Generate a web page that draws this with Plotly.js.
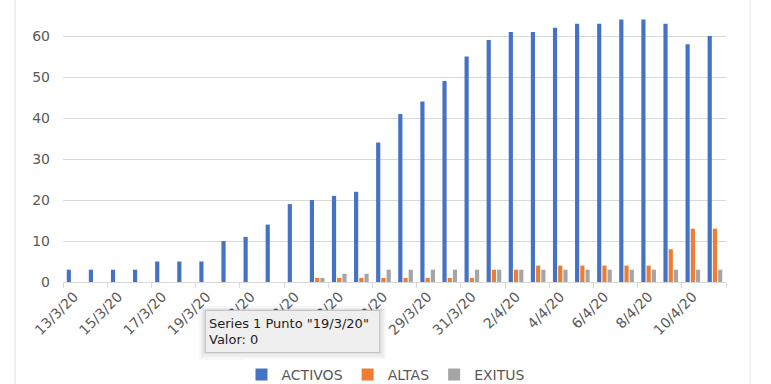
<!DOCTYPE html>
<html>
<head>
<meta charset="utf-8">
<script src="https://cdn.plot.ly/plotly-3.0.1.min.js"></script>
<style>
html, body { margin: 0; padding: 0; width: 771px; height: 384px; overflow: hidden; background: #fff; }
#chart { position: absolute; left: 0; top: -16px; width: 771px; height: 400px; }
</style>
</head>
<body>
<div id="chart"></div>
<script>
const dates = ['13/3/20','14/3/20','15/3/20','16/3/20','17/3/20','18/3/20','19/3/20','20/3/20','21/3/20','22/3/20',
               '23/3/20','24/3/20','25/3/20','26/3/20','27/3/20','28/3/20','29/3/20','30/3/20','31/3/20','1/4/20',
               '2/4/20','3/4/20','4/4/20','5/4/20','6/4/20','7/4/20','8/4/20','9/4/20','10/4/20','11/4/20'];
const activos = [3,3,3,3,5,5,5,10,11,14,19,20,21,22,34,41,44,49,55,59,61,61,62,63,63,64,64,63,58,60];
const altas   = [0,0,0,0,0,0,0,0,0,0,0,1,1,1,1,1,1,1,1,3,3,4,4,4,4,4,4,8,13,13];
const exitus  = [0,0,0,0,0,0,0,0,0,0,0,1,2,2,3,3,3,3,3,3,3,3,3,3,3,3,3,3,3,3];
const seriesNames = ['ACTIVOS','ALTAS','EXITUS'];
const tooltipText = 'Series 1 Punto "19/3/20"<br>Valor: 0';

// layout geometry helpers (page pixels -> paper coords)
const L = 63, R = 45, T = 11, B = 102, H = 400, W = 771, OFF = 16;
const plotW = W - L - R, plotH = H - T - B;
const px = x => (x - L) / plotW;
const py = y => (H - B - (y + OFF)) / plotH;

const font = 'DejaVu Sans, Verdana, sans-serif';
const colors = ['#4472C4', '#ED7D31', '#A5A5A5'];

const traces = [activos, altas, exitus].map((vals, i) => ({
  type: 'bar', x: dates, y: vals, name: seriesNames[i],
  marker: { color: colors[i], line: { width: 0 } },
  hoverinfo: 'skip'
}));

const layout = {
  width: W, height: H,
  margin: { l: L, r: R, t: T, b: B, pad: 0 },
  paper_bgcolor: '#fff', plot_bgcolor: '#fff',
  barmode: 'group', bargap: 0.29, bargroupgap: 0.2,
  font: { family: font, size: 14, color: '#595959' },
  showlegend: true,
  legend: {
    orientation: 'h', xref: 'container', yref: 'container',
    x: 0.5, xanchor: 'center', y: (H - (375 + OFF)) / H, yanchor: 'middle',
    font: { family: font, size: 14, color: '#595959' },
    itemclick: false, itemdoubleclick: false
  },
  xaxis: {
    type: 'category', tickangle: -45, tickmode: 'linear', tick0: 0, dtick: 2,
    tickson: 'boundaries', ticks: 'outside', ticklen: 5, tickcolor: '#d9d9d9',
    showline: true, linecolor: '#d9d9d9', linewidth: 1, showgrid: false,
    tickfont: { family: font, size: 14, color: '#595959' },
    range: [-0.5, dates.length - 0.5], fixedrange: true
  },
  yaxis: {
    range: [0, 70], tickmode: 'linear', tick0: 0, dtick: 10,
    showgrid: true, gridcolor: '#d9d9d9', gridwidth: 1,
    zeroline: false, showline: false, ticks: '',
    ticklabelstandoff: 12,
    tickfont: { family: font, size: 14, color: '#595959' }, fixedrange: true
  },
  shapes: [
    { type: 'line', xref: 'paper', yref: 'paper', x0: px(15), x1: px(15), y0: -1, y1: 2,
      line: { color: '#dedede', width: 1 }, layer: 'above' },
    { type: 'line', xref: 'paper', yref: 'paper', x0: px(750), x1: px(750), y0: -1, y1: 2,
      line: { color: '#e6e6e6', width: 1 }, layer: 'above' },
    { type: 'rect', xref: 'paper', yref: 'paper', x0: px(199), x1: px(386), y0: py(306), y1: py(360),
      fillcolor: 'rgba(0,0,0,0.03)', line: { width: 0 }, layer: 'above' },
    { type: 'rect', xref: 'paper', yref: 'paper', x0: px(201), x1: px(384), y0: py(308), y1: py(357),
      fillcolor: 'rgba(0,0,0,0.04)', line: { width: 0 }, layer: 'above' },
    { type: 'rect', xref: 'paper', yref: 'paper', x0: px(203), x1: px(382), y0: py(309), y1: py(354),
      fillcolor: 'rgba(0,0,0,0.05)', line: { width: 0 }, layer: 'above' }
  ],
  annotations: [
    { xref: 'paper', yref: 'paper', x: px(205), y: py(310), xanchor: 'left', yanchor: 'top',
      text: tooltipText, showarrow: false, align: 'left', width: 167, height: 35, valign: 'middle',
      font: { family: font, size: 13, color: '#1e1e1e' },
      bgcolor: '#efefef', bordercolor: '#c4c4c4', borderwidth: 1, borderpad: 3 }
  ]
};

Plotly.newPlot('chart', traces, layout, { staticPlot: true, displayModeBar: false });
</script>
</body>
</html>
